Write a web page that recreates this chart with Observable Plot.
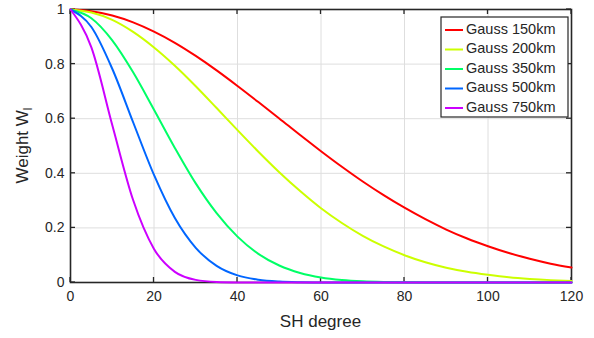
<!DOCTYPE html>
<html><head><meta charset="utf-8">
<script src="https://cdn.jsdelivr.net/npm/d3@7"></script>
<script src="https://cdn.jsdelivr.net/npm/@observablehq/plot@0.6"></script>
<style>body{margin:0;background:#fff;} svg{display:block;}</style>
</head><body><div id="chart"></div>
<script>
const degrees = [0,5,10,15,20,25,30,35,40,45,50,55,60,65,70,75,80,85,90,95,100,105,110,115,120];
const seriesNames = ["Gauss 150km","Gauss 200km","Gauss 350km","Gauss 500km","Gauss 750km"];
const seriesColors = ["#ff0000","#ccff00","#00ff66","#0066ff","#cc00ff"];
const gauss150 = [1,0.994,0.978,0.953,0.919,0.878,0.830,0.777,0.720,0.661,0.601,0.540,0.481,0.424,0.370,0.320,0.274,0.232,0.194,0.161,0.133,0.108,0.087,0.069,0.055];
const gauss200 = [1,0.989,0.962,0.918,0.861,0.794,0.719,0.639,0.558,0.479,0.404,0.335,0.272,0.218,0.171,0.132,0.100,0.074,0.054,0.039,0.028,0.019,0.013,0.0087,0.0057];
const gauss350 = [1,0.968,0.887,0.770,0.633,0.493,0.363,0.254,0.168,0.105,0.0623,0.0350,0.0186,0.0094,0.0045,0.0020,0.00086,0.00035,0.00013,0.00005,0.00002,0,0,0,0];
const gauss500 = [1,0.936,0.783,0.587,0.394,0.236,0.127,0.061,0.026,0.0101,0.0035,0.0011,0.0003,0.00007,0,0,0,0,0,0,0,0,0,0,0];
const gauss750 = [1,0.861,0.577,0.302,0.123,0.039,0.0096,0.0019,0.0003,0,0,0,0,0,0,0,0,0,0,0,0,0,0,0,0];
const xTicks = [0,20,40,60,80,100,120];
const yTicks = [0,0.2,0.4,0.6,0.8,1];
const yTickLabels = ["0","0.2","0.4","0.6","0.8","1"];
const xLabel = "SH degree";
const yLabel = "Weight W";
const yLabelSub = "l";

const allSeries = [gauss150, gauss200, gauss350, gauss500, gauss750];
const data = [];
allSeries.forEach((vals, s) => vals.forEach((w, i) => data.push({series: seriesNames[s], degree: degrees[i], w})));

const W = 594, H = 338;
const mL = 70, mR = 23, mT = 9, mB = 56;
const ink = "#262626";
const font = "'Liberation Sans', Arial, Helvetica, sans-serif";

const chart = Plot.plot({
  width: W, height: H,
  marginLeft: mL, marginRight: mR, marginTop: mT, marginBottom: mB,
  style: {fontFamily: font, fontSize: "14px", color: ink, background: "white"},
  x: {domain: [0, 120]},
  y: {domain: [0, 1]},
  color: {domain: seriesNames, range: seriesColors},
  marks: [
    Plot.gridX(xTicks, {stroke: "#dedede", strokeOpacity: 1, strokeWidth: 1}),
    Plot.gridY(yTicks, {stroke: "#dedede", strokeOpacity: 1, strokeWidth: 1}),
    Plot.frame({stroke: ink, strokeWidth: 1.6}),
    Plot.axisX(xTicks, {anchor: "bottom", tickSize: 0, tickPadding: 9, label: null, fill: ink}),
    Plot.axisY(yTicks, {anchor: "left", tickSize: 0, tickPadding: 6, tickFormat: d => yTickLabels[yTicks.indexOf(d)], label: null, fill: ink}),
    Plot.line(data, {x: "degree", y: "w", z: "series", stroke: "series", strokeWidth: 2, curve: "monotone-x"})
  ]
});
document.getElementById("chart").appendChild(chart);

const svg = d3.select(chart);
const sx = chart.scale("x"), sy = chart.scale("y");
const x0 = mL, x1 = W - mR, y0 = H - mB, y1 = mT, tl = 5;
// inward ticks on all four sides
const tg = svg.insert("g", "g[aria-label='line']").attr("stroke", ink).attr("stroke-width", 1.3);
xTicks.forEach(t => {
  const px = sx.apply(t);
  tg.append("line").attr("x1", px).attr("x2", px).attr("y1", y0).attr("y2", y0 - tl);
  tg.append("line").attr("x1", px).attr("x2", px).attr("y1", y1).attr("y2", y1 + tl);
});
yTicks.forEach(t => {
  const py = sy.apply(t);
  tg.append("line").attr("x1", x0).attr("x2", x0 + tl).attr("y1", py).attr("y2", py);
  tg.append("line").attr("x1", x1).attr("x2", x1 - tl).attr("y1", py).attr("y2", py);
});
// axis titles
svg.append("text")
  .attr("x", mL + (W - mL - mR) / 2).attr("y", 323)
  .attr("text-anchor", "middle").attr("dominant-baseline", "middle")
  .attr("font-family", font).attr("font-size", 17).attr("fill", ink)
  .text(xLabel);
const yl = svg.append("text")
  .attr("transform", `translate(28,${mT + (H - mT - mB) / 2}) rotate(-90)`)
  .attr("text-anchor", "middle")
  .attr("font-family", font).attr("font-size", 17).attr("fill", ink);
yl.append("tspan").text(yLabel);
yl.append("tspan").attr("font-size", 12).attr("dy", 4).text(yLabelSub);

// legend
const lg = svg.append("g");
const lx = 441, ly = 17, lw = 127, rowH = 19.5;
lg.append("rect").attr("x", lx).attr("y", ly).attr("width", lw).attr("height", 100)
  .attr("fill", "white").attr("stroke", ink).attr("stroke-width", 1.2);
seriesNames.forEach((name, i) => {
  const cy = ly + 13 + i * rowH;
  lg.append("line").attr("x1", lx + 4).attr("x2", lx + 22).attr("y1", cy).attr("y2", cy)
    .attr("stroke", seriesColors[i]).attr("stroke-width", 2);
  lg.append("text").attr("x", lx + 25).attr("y", cy).attr("dominant-baseline", "middle")
    .attr("text-anchor", "start")
    .attr("font-family", font).attr("font-size", 14.5).attr("fill", ink).text(name);
});
</script>
</body></html>
